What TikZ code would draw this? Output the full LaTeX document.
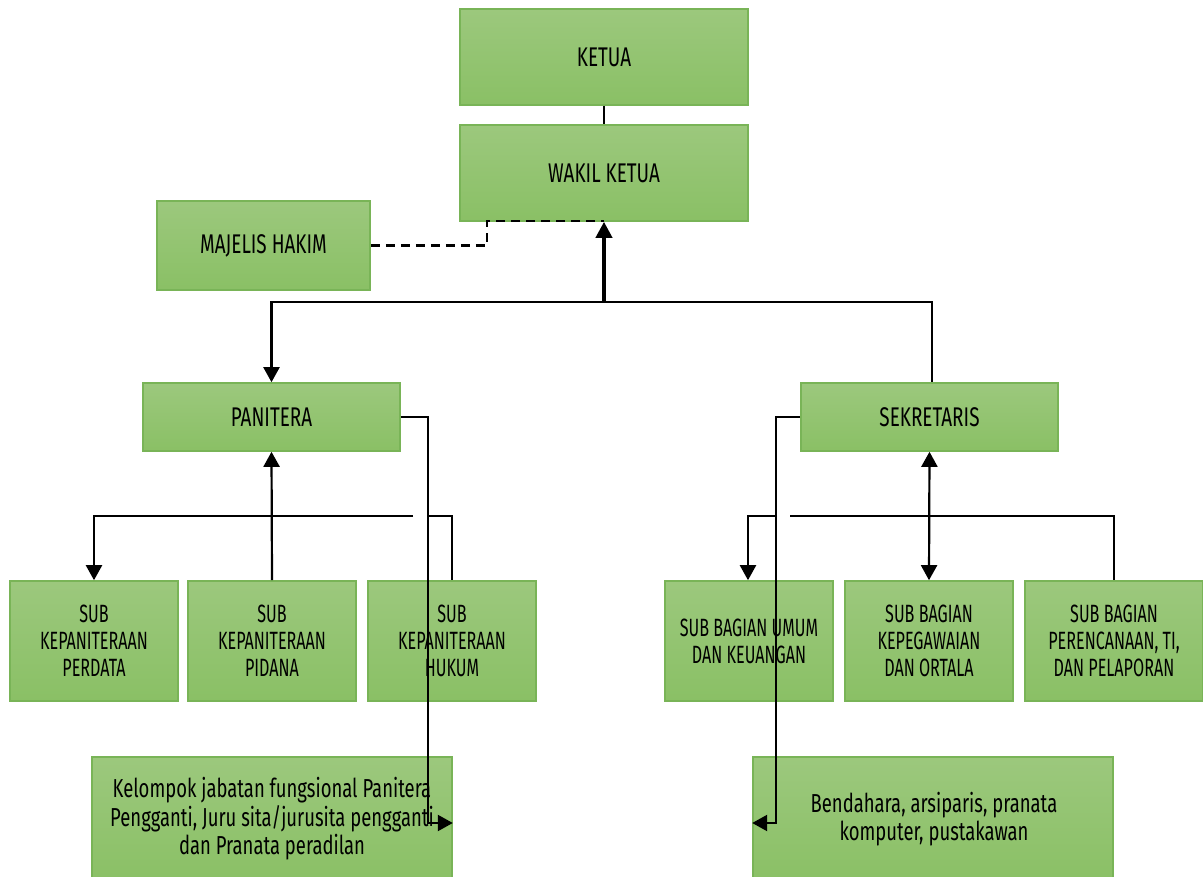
\documentclass[tikz,border=0pt]{standalone}
\usepackage{fontspec}
\setmainfont{Fira Sans}[FakeStretch=0.70]
\newfontfamily\subfont{Fira Sans}[FakeStretch=0.645]
\newfontfamily\lowfont{Fira Sans}[FakeStretch=0.71]
\usetikzlibrary{arrows.meta,positioning}
\definecolor{gtop}{HTML}{9CC87D}
\definecolor{gmid}{HTML}{ABD194}
\definecolor{gbot}{HTML}{8AC065}
\definecolor{gline}{HTML}{79B457}
\tikzset{
  box/.style={draw=gline, line width=1.6pt, top color=gtop, middle color=gmid, bottom color=gbot,
    shading angle=0, align=center, inner sep=0pt, text=black},
  bigtxt/.style={font=\fontsize{27}{31}\selectfont},
  subtxt/.style={font=\subfont\fontsize{25}{27}\selectfont},
  lowtxt/.style={font=\lowfont\fontsize{26}{28.5}\selectfont},
  conn/.style={line width=2.2pt, draw=black},
  tip/.style={-{Triangle[length=15pt,width=16pt]}},
}
\begin{document}
\begin{tikzpicture}[x=1pt,y=-1pt]
\useasboundingbox (0,0) rectangle (1203,877);
\begin{scope}
\clip (0,0) rectangle (1203,877);
% boxes
\node[box,bigtxt,minimum width=288pt,minimum height=96pt] (ketua) at (604,57) {KETUA};
\node[box,bigtxt,minimum width=288pt,minimum height=96pt] (wakil) at (604,173) {WAKIL KETUA};
\node[box,bigtxt,minimum width=213pt,minimum height=89pt] (majelis) at (263.5,245.5) {MAJELIS HAKIM};
\node[box,bigtxt,minimum width=257pt,minimum height=68pt] (panitera) at (271.5,417) {PANITERA};
\node[box,bigtxt,minimum width=257pt,minimum height=68pt] (sekretaris) at (929.5,417) {SEKRETARIS};
\node[box,subtxt,minimum width=168pt,minimum height=120pt] (perdata) at (94,641) {SUB\\KEPANITERAAN\\PERDATA};
\node[box,subtxt,minimum width=168pt,minimum height=120pt] (pidana) at (272,641) {SUB\\KEPANITERAAN\\PIDANA};
\node[box,subtxt,minimum width=168pt,minimum height=120pt] (hukum) at (452,641) {SUB\\KEPANITERAAN\\HUKUM};
\node[box,subtxt,minimum width=168pt,minimum height=120pt] (umum) at (749,641) {SUB BAGIAN UMUM\\DAN KEUANGAN};
\node[box,subtxt,minimum width=168pt,minimum height=120pt] (kepeg) at (929,641) {SUB BAGIAN\\KEPEGAWAIAN\\DAN ORTALA};
\node[box,subtxt,minimum width=178pt,minimum height=120pt] (peren) at (1114,641) {SUB BAGIAN\\PERENCANAAN, TI,\\DAN PELAPORAN};
\node[box,minimum width=360pt,minimum height=126pt] (kelompok) at (272,820) {};
\node[lowtxt,align=center] (kelompoktxt) at (272,819) {Kelompok jabatan fungsional Panitera\\Pengganti, Juru sita/jurusita pengganti\\dan Pranata peradilan};
\node[box,minimum width=360pt,minimum height=126pt] (bendahara) at (933,820) {};
\node[lowtxt,align=center] (bendaharatxt) at (934,819) {Bendahara, arsiparis, pranata\\komputer, pustakawan};
% coordinates
\coordinate (jtop) at (604,302);
\coordinate (dashc) at (487,221);
\coordinate (dash2) at (604,221);
\coordinate (pl) at (413,516);
\coordinate (pr) at (428,516);
\coordinate (sl) at (777,516);
\coordinate (sr) at (790,516);
% connectors
\draw[line width=1.6pt] (ketua.south) -- (wakil.north);
\draw[line width=2.2pt, dash pattern=on 9pt off 6pt] (majelis.east) -| (dashc) -- (dash2);
\draw[line width=3.8pt, -{Triangle[length=16pt,width=16pt]}] (jtop) -- (wakil.south);
\draw[conn, tip] (jtop) -| (panitera.north);
\draw[conn] (jtop) -| ([xshift=2.5pt]sekretaris.north);
\draw[conn, tip] (panitera.east) -- ++(27,0) |- ([yshift=-3pt]kelompok.east);
\draw[conn, tip] (pidana.north) -- (panitera.south);
\draw[conn, tip] (pl) -| (perdata.north);
\draw[conn] (pr) -| (hukum.north);
\draw[conn, tip] (sekretaris.west) -- ++(-24,0) |- ([yshift=-3pt]bendahara.west);
\draw[conn, {Triangle[length=15pt,width=16pt]}-{Triangle[length=15pt,width=16pt]}] (sekretaris.south) -- (kepeg.north);
\draw[conn, tip] (sl) -| ([xshift=-1pt]umum.north);
\draw[conn] (sr) -| (peren.north);
\end{scope}
\end{tikzpicture}
\end{document}
